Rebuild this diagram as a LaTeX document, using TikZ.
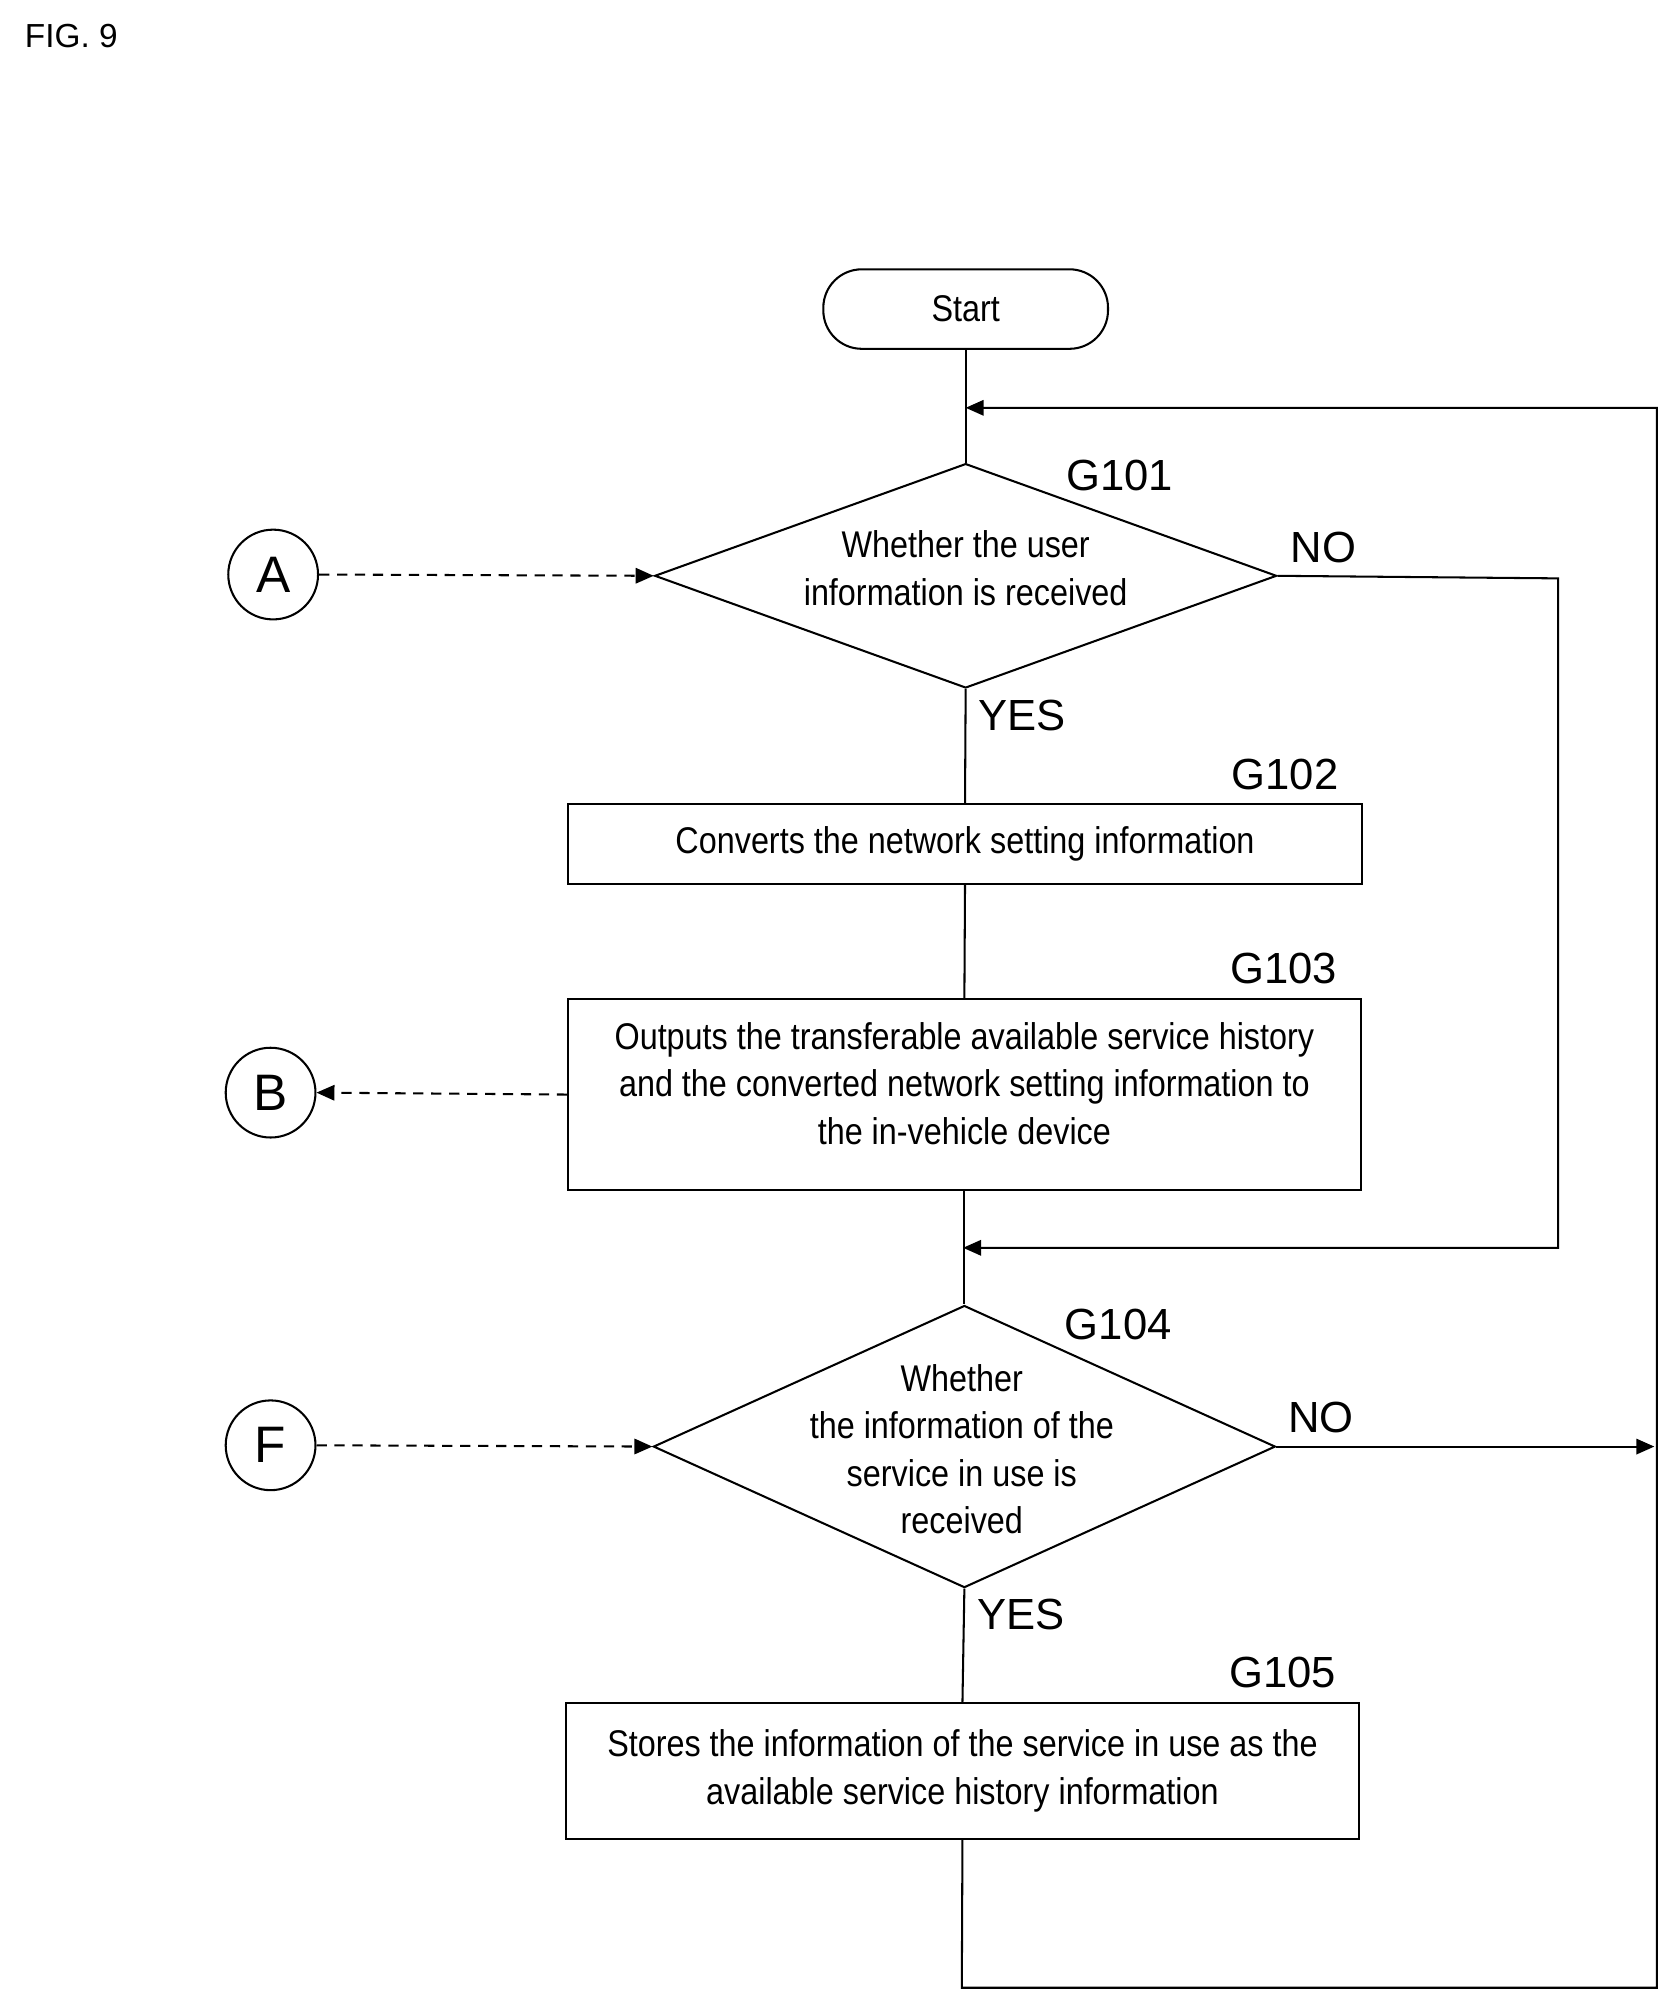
\documentclass[tikz,border=0pt]{standalone}
\usepackage{fontspec}
\setmainfont[FakeStretch=0.87]{Liberation Sans}
\newfontfamily\lab{Liberation Sans}
\usetikzlibrary{shapes.geometric,arrows.meta}
\begin{document}
\begin{tikzpicture}[x=0.5pt,y=-0.5pt,line width=0.8pt,
  box/.style={draw,rectangle,inner sep=0,align=center,font=\fontsize{14.5}{18.5}\selectfont},
  dia/.style={draw,diamond,inner sep=0},
  txt/.style={align=center,font=\fontsize{14.5}{18.5}\selectfont},
  lbl/.style={font=\lab\fontsize{17}{18}\selectfont},
  con/.style={draw,circle,minimum size=35pt,inner sep=0,font=\lab\fontsize{20}{20}\selectfont},
  arr/.style={-{Triangle[length=7pt,width=6pt]}},
  dsh/.style={dashed,dash pattern=on 4pt off 3pt}]
\useasboundingbox (0,0) rectangle (1302,1558);
\node[anchor=west,font=\lab\fontsize{13}{13}\selectfont] (fig) at (12,28) {FIG. 9};
\node[draw,rounded corners=15pt,minimum width=111pt,minimum height=31pt,inner sep=0,font=\fontsize{14.5}{18}\selectfont] (start) at (753,241) {Start};
\node[dia,minimum width=242.5pt,minimum height=87.5pt] (g101) at (753,449) {};
\node[txt] (t101) at (753,443) {Whether the user\\information is received};
\node[box,minimum width=309.5pt,minimum height=31pt] (g102) at (752.5,658) {Converts the network setting information};
\node[box,minimum width=309pt,minimum height=74.5pt] (g103) at (752,853.5) {};
\node[txt] (t103) at (752,845) {Outputs the transferable available service history\\and the converted network setting information to\\the in-vehicle device};
\node[dia,minimum width=242.5pt,minimum height=110pt] (g104) at (752,1128) {};
\node[txt] (t104) at (750,1130) {Whether\\the information of the\\service in use is\\received};
\node[box,minimum width=309.5pt,minimum height=53pt] (g105) at (750.5,1381) {Stores the information of the service in use as the\\available service history information};
\node[lbl] (l101) at (873,371) {G101};
\node[lbl] (l102) at (1002,604) {G102};
\node[lbl] (l103) at (1001,755) {G103};
\node[lbl] (l104) at (872,1033) {G104};
\node[lbl] (l105) at (1000,1304) {G105};
\node[lbl] (n1l) at (1032,427) {NO};
\node[lbl] (n2l) at (1030,1105) {NO};
\node[lbl] (y1l) at (797,558) {YES};
\node[lbl] (y2l) at (796,1259) {YES};
\node[con] (ca) at (213,448) {A};
\node[con] (cb) at (211,852) {B};
\node[con] (cf) at (211,1127) {F};
\coordinate (lt) at (753,318);
\coordinate (rt) at (1292,318);
\coordinate (rb) at (1292,1550);
\coordinate (lb) at (750,1550);
\coordinate (n1) at (1215,451);
\coordinate (n2) at (1215,973);
\coordinate (m2) at (751,973);
\coordinate (r4) at (1290,1128);
\draw (start.south) -- (g101.north);
\draw (g101.south) -- (g102.north);
\draw (g102.south) -- (g103.north);
\draw (g103.south) -- (g104.north);
\draw (g104.south) -- (g105.north);
\draw[arr] (g105.south) -- (lb) -- (rb) -- (rt) -- (lt);
\draw[arr] (g101.east) -- (n1) -- (n2) -- (m2);
\draw[arr] (g104.east) -- (r4);
\draw[arr,dsh] (ca.east) -- (g101.west);
\draw[arr,dsh] (g103.west) -- (cb.east);
\draw[arr,dsh] (cf.east) -- (g104.west);
\end{tikzpicture}
\end{document}
